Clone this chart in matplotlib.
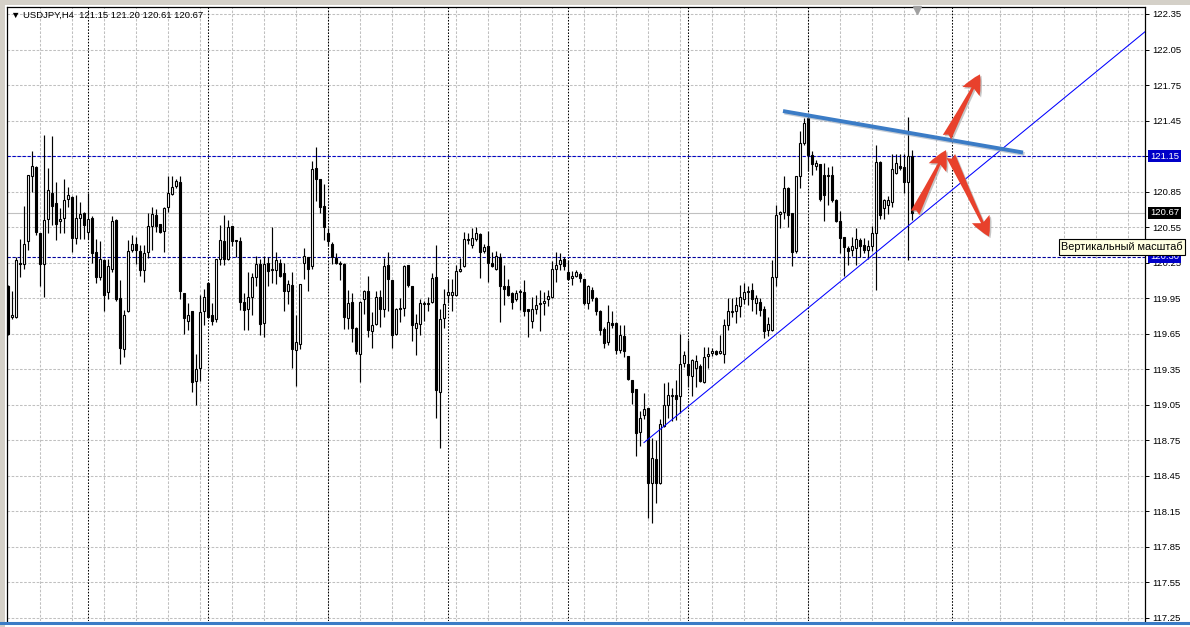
import matplotlib
matplotlib.use("Agg")
import matplotlib.pyplot as plt
import matplotlib.transforms as mtransforms
from matplotlib.lines import Line2D
from matplotlib.patches import Rectangle

# USDJPY H4 candles, oldest first
opens = [
    120.05, 119.79, 119.79, 120.25, 120.24, 120.43, 120.98, 121.06, 120.50, 120.24,
    120.62, 120.84, 120.75, 120.60, 120.63, 120.79, 120.80, 120.46, 120.63, 120.67,
    120.51, 120.63, 120.34, 120.13, 120.27, 120.00, 120.20, 120.61, 119.95, 119.52,
    119.84, 120.36, 120.41, 120.35, 120.19, 120.34, 120.56, 120.65, 120.58, 120.52,
    120.72, 120.83, 120.90, 120.93, 119.99, 119.76, 119.84, 119.25, 119.36, 119.84,
    120.08, 119.81, 119.77, 120.28, 120.43, 120.28, 120.56, 120.43, 120.43, 119.92,
    119.86, 119.96, 120.13, 120.24, 119.74, 120.25, 120.19, 120.19, 120.25, 120.16,
    120.01, 120.06, 119.51, 119.56, 120.25, 120.30, 120.22, 121.05, 120.96, 120.73,
    120.50, 120.41, 120.29, 120.25, 120.24, 119.78, 119.92, 119.70, 119.48, 119.94,
    120.01, 119.67, 119.73, 119.96, 119.86, 120.23, 120.10, 119.65, 119.87, 119.87,
    120.23, 120.05, 119.70, 119.73, 119.90, 119.90, 119.92, 120.13, 119.16, 119.78,
    119.98, 119.98, 119.98, 120.18, 120.22, 120.44, 120.40, 120.45, 120.49, 120.35,
    120.39, 120.25, 120.20, 120.30, 120.05, 120.05, 119.99, 119.94, 120.00, 120.00,
    119.86, 119.76, 119.86, 119.90, 119.91, 119.94, 119.96, 120.20, 120.24, 120.28,
    120.17, 120.12, 120.14, 120.15, 120.11, 119.91, 120.02, 119.95, 119.84, 119.69,
    119.58, 119.74, 119.74, 119.51, 119.63, 119.46, 119.26, 119.18, 118.82, 118.96,
    119.02, 118.39, 118.59, 118.39, 118.87, 119.05, 119.12, 119.13, 119.12, 119.40,
    119.39, 119.29, 119.36, 119.38, 119.24, 119.46, 119.49, 119.50, 119.49, 119.48,
    119.72, 119.83, 119.84, 119.88, 119.94, 120.01, 120.02, 119.91, 119.92, 119.86,
    119.68, 119.68, 120.13, 120.66, 120.68, 120.88, 120.67, 120.35, 120.98, 121.26,
    121.47, 121.16, 121.07, 121.08, 120.99, 120.98, 120.99, 120.78, 120.60, 120.47,
    120.37, 120.36, 120.37, 120.44, 120.40, 120.36, 120.39, 120.50, 121.10, 120.71,
    120.74, 120.76, 121.01, 121.07, 121.06, 120.93, 121.15,
]
highs = [
    120.06, 120.01, 120.30, 120.45, 120.73, 120.99, 121.19, 121.07, 120.50, 121.33,
    121.05, 121.32, 120.93, 120.71, 120.96, 120.89, 120.81, 120.82, 120.76, 120.68,
    120.84, 120.64, 120.45, 120.43, 120.28, 120.28, 120.64, 120.62, 120.10, 119.85,
    120.44, 120.48, 120.47, 120.40, 120.40, 120.67, 120.72, 120.70, 120.58, 120.72,
    120.98, 120.98, 120.96, 120.98, 119.99, 119.91, 119.84, 119.48, 119.98, 120.03,
    120.09, 119.91, 120.28, 120.57, 120.65, 120.61, 120.56, 120.44, 120.47, 119.99,
    120.17, 120.16, 120.31, 120.28, 120.31, 120.30, 120.55, 120.34, 120.28, 120.25,
    120.10, 120.17, 119.81, 120.07, 120.37, 120.30, 121.11, 121.23, 120.96, 120.91,
    120.54, 120.42, 120.33, 120.26, 120.25, 120.02, 119.99, 119.71, 119.93, 120.02,
    120.14, 119.83, 120.01, 120.02, 120.29, 120.34, 120.10, 119.87, 119.95, 120.23,
    120.23, 120.05, 119.82, 119.94, 119.93, 119.96, 120.16, 120.40, 119.86, 120.03,
    120.11, 120.11, 120.23, 120.29, 120.51, 120.50, 120.54, 120.55, 120.50, 120.41,
    120.52, 120.34, 120.35, 120.33, 120.23, 120.11, 120.00, 120.02, 120.03, 120.10,
    119.86, 119.96, 119.98, 120.02, 120.00, 120.02, 120.26, 120.34, 120.33, 120.30,
    120.27, 120.18, 120.19, 120.17, 120.11, 120.06, 120.04, 119.96, 119.85, 119.71,
    119.89, 119.84, 119.75, 119.72, 119.72, 119.46, 119.26, 119.18, 119.00, 119.15,
    119.02, 118.77, 118.75, 118.93, 119.23, 119.24, 119.19, 119.26, 119.65, 119.50,
    119.60, 119.44, 119.47, 119.39, 119.54, 119.54, 119.53, 119.51, 119.64, 119.77,
    119.95, 119.95, 119.96, 120.06, 120.08, 120.05, 120.08, 119.98, 119.95, 119.88,
    119.79, 120.27, 120.74, 120.69, 120.98, 120.89, 120.67, 120.98, 121.36, 121.47,
    121.48, 121.19, 121.12, 121.08, 121.09, 121.06, 121.07, 120.79, 120.69, 120.47,
    120.39, 120.47, 120.54, 120.46, 120.46, 120.44, 120.56, 121.24, 121.11, 120.79,
    120.81, 121.17, 121.17, 121.17, 121.17, 121.48, 121.20,
]
lows = [
    119.64, 119.77, 119.78, 120.13, 120.20, 120.36, 120.85, 120.48, 120.05, 119.96,
    120.50, 120.57, 120.44, 120.50, 120.50, 120.72, 120.34, 120.41, 120.45, 120.45,
    120.45, 120.25, 120.08, 120.10, 119.84, 119.94, 120.17, 119.93, 119.39, 119.45,
    119.83, 120.34, 120.24, 120.14, 120.09, 120.29, 120.36, 120.51, 120.50, 120.34,
    120.68, 120.82, 120.88, 119.94, 119.65, 119.68, 119.16, 119.05, 119.25, 119.72,
    119.78, 119.72, 119.75, 120.23, 120.23, 120.27, 120.39, 120.30, 119.85, 119.68,
    119.68, 119.81, 120.05, 119.64, 119.62, 120.05, 120.08, 120.07, 120.13, 119.84,
    119.90, 119.36, 119.21, 119.52, 120.11, 120.01, 120.20, 120.77, 120.67, 120.44,
    120.39, 120.24, 120.24, 120.10, 119.69, 119.69, 119.58, 119.48, 119.24, 119.82,
    119.62, 119.53, 119.72, 119.71, 119.79, 119.84, 119.53, 119.64, 119.75, 119.80,
    120.04, 119.59, 119.47, 119.64, 119.76, 119.84, 119.91, 118.94, 118.68, 119.70,
    119.91, 119.84, 119.97, 120.17, 120.21, 120.41, 120.37, 120.43, 120.12, 120.33,
    120.09, 120.21, 120.19, 119.75, 119.89, 119.97, 119.86, 119.93, 119.85, 119.80,
    119.62, 119.70, 119.82, 119.67, 119.81, 119.88, 119.95, 120.09, 120.19, 120.19,
    120.10, 120.06, 120.13, 120.09, 119.89, 119.86, 119.93, 119.81, 119.64, 119.53,
    119.55, 119.70, 119.48, 119.49, 119.45, 119.26, 119.06, 118.62, 118.70, 118.93,
    118.09, 118.05, 118.22, 118.38, 118.86, 118.94, 118.91, 118.92, 118.98, 119.37,
    119.20, 119.12, 119.20, 119.24, 119.23, 119.36, 119.46, 119.47, 119.48, 119.40,
    119.68, 119.79, 119.74, 119.79, 119.90, 119.89, 119.84, 119.82, 119.80, 119.61,
    119.63, 119.67, 120.05, 120.54, 120.62, 120.55, 120.22, 120.33, 120.88, 121.24,
    121.02, 120.99, 121.03, 120.77, 120.60, 120.74, 120.76, 120.59, 120.33, 120.14,
    120.23, 120.31, 120.23, 120.30, 120.33, 120.28, 120.35, 120.02, 120.62, 120.62,
    120.66, 120.72, 121.00, 121.03, 120.84, 120.27, 120.61,
]
closes = [
    119.65, 119.81, 120.27, 120.24, 120.41, 120.99, 121.07, 120.51, 120.24, 120.61,
    120.86, 120.73, 120.58, 120.62, 120.78, 120.82, 120.46, 120.63, 120.66, 120.57,
    120.62, 120.33, 120.13, 120.28, 119.98, 120.22, 120.60, 119.94, 119.53, 119.81,
    120.35, 120.41, 120.36, 120.19, 120.33, 120.56, 120.66, 120.56, 120.51, 120.71,
    120.84, 120.89, 120.94, 120.01, 119.78, 119.81, 119.24, 119.35, 119.83, 119.96,
    119.79, 119.76, 120.28, 120.44, 120.28, 120.55, 120.43, 120.44, 119.92, 119.85,
    119.96, 120.13, 120.24, 119.73, 120.24, 120.18, 120.20, 120.27, 120.14, 120.01,
    120.07, 119.52, 119.58, 120.07, 120.31, 120.20, 121.04, 120.96, 120.72, 120.55,
    120.43, 120.30, 120.25, 120.24, 119.79, 119.91, 119.70, 119.50, 119.92, 120.01,
    119.68, 119.72, 119.96, 119.86, 120.22, 120.11, 119.64, 119.86, 119.86, 120.22,
    120.06, 119.72, 119.74, 119.91, 119.91, 119.91, 120.12, 119.17, 119.77, 119.90,
    120.00, 120.00, 120.18, 120.20, 120.45, 120.45, 120.46, 120.50, 120.34, 120.38,
    120.25, 120.22, 120.31, 120.05, 120.03, 119.98, 119.92, 119.99, 120.01, 119.84,
    119.84, 119.86, 119.89, 119.91, 119.93, 119.97, 120.20, 120.23, 120.27, 120.22,
    120.11, 120.14, 120.17, 120.12, 119.91, 120.05, 119.95, 119.84, 119.68, 119.57,
    119.75, 119.72, 119.51, 119.64, 119.50, 119.27, 119.16, 118.81, 118.94, 119.01,
    118.39, 118.60, 118.39, 118.89, 119.05, 119.13, 119.13, 119.10, 119.39, 119.47,
    119.30, 119.43, 119.42, 119.25, 119.45, 119.48, 119.50, 119.48, 119.50, 119.72,
    119.84, 119.84, 119.89, 119.96, 120.00, 120.00, 119.94, 119.95, 119.85, 119.67,
    119.73, 120.13, 120.65, 120.68, 120.88, 120.65, 120.34, 120.98, 121.26, 121.43,
    121.16, 121.08, 121.09, 120.79, 120.82, 120.99, 120.78, 120.60, 120.46, 120.38,
    120.35, 120.39, 120.45, 120.39, 120.36, 120.39, 120.50, 121.10, 120.65, 120.78,
    120.78, 121.04, 121.09, 121.05, 120.93, 121.15, 120.67,
]

# price scale and period separators (bar index)
price_ticks = [117.25, 117.55, 117.85, 118.15, 118.45, 118.75, 119.05, 119.35, 119.65,
               119.95, 120.25, 120.55, 120.85, 121.15, 121.45, 121.75, 122.05, 122.35]
grid_bars = list(range(8, 284, 8))
week_bars = [20, 50, 80, 110, 140, 170, 200, 236]

header = "USDJPY,H4  121.15 121.20 120.61 120.67"
level_upper = 121.15
level_lower = 120.30
bid_price = 120.67

# drawn objects (bar index, price)
support_line = [(159.0, 118.73), (284.25, 122.20)]
resistance_line = [(193.75, 121.53), (253.75, 121.18)]
arrows = [
    ((226.75, 120.67), (234.5, 121.20)),
    ((234.75, 121.31), (243.0, 121.84)),
    ((235.7, 121.15), (245.25, 120.47)),
]

FONT = ["Liberation Sans", "DejaVu Sans"]
W, H = 1190, 627

fig = plt.figure(figsize=(W / 100, H / 100), dpi=100)
fig.patch.set_facecolor("white")
ax = fig.add_axes([7 / W, 6 / H, 1138 / W, 614 / H])
ax.set_xlim(-0.25, 284.25)
ax.set_ylim(117.223, 122.409)

# grid
for p in price_ticks:
    ax.axhline(p, color="#c0c0c0", lw=0.75, dashes=(2.5, 1.5), zorder=0)
for b in grid_bars:
    ax.axvline(b, color="#c0c0c0", lw=0.75, dashes=(2.5, 1.5), zorder=0)
for b in week_bars:
    ax.axvline(b, color="black", lw=0.75, dashes=(1.5, 1.5), zorder=0.5)

# level lines
ax.axhline(bid_price, color="#c0c0c0", lw=0.8, zorder=0.6)
ax.axhline(level_upper, color="#0000c8", lw=0.8, dashes=(3, 1.5), zorder=0.7)
ax.axhline(level_lower, color="#00009c", lw=0.8, dashes=(3, 1.5), zorder=0.7)

# candles
xs = list(range(len(opens)))
ax.vlines(xs, lows, highs, color="black", lw=0.85, zorder=2)
up = [i for i in xs if closes[i] >= opens[i]]
dn = [i for i in xs if closes[i] < opens[i]]
ax.bar(up, [closes[i] - opens[i] for i in up], bottom=[opens[i] for i in up],
       width=0.55, facecolor="white", edgecolor="black", lw=0.8, zorder=3)
ax.bar(dn, [opens[i] - closes[i] for i in dn], bottom=[closes[i] for i in dn],
       width=0.55, facecolor="black", edgecolor="black", lw=0.8, zorder=3)

# trend lines
ax.plot(*zip(*support_line), color="#0000ff", lw=0.75, zorder=4)
shadow = ax.transData + mtransforms.ScaledTranslation(1.5 / 100, -1.5 / 100, fig.dpi_scale_trans)
ax.plot(*zip(*resistance_line), color="#9aa7b8", lw=2.8, alpha=0.6,
        transform=shadow, solid_capstyle="butt", zorder=4)
ax.plot(*zip(*resistance_line), color="#3b7cc6", lw=2.8,
        solid_capstyle="butt", zorder=5)

# red arrows
style = "fancy,head_length=0.45,head_width=0.45,tail_width=0.22"
for start, end in arrows:
    ax.annotate("", xy=end, xytext=start, xycoords=shadow, textcoords=shadow,
                arrowprops=dict(arrowstyle=style, mutation_scale=31, color="#a0a0a0",
                                alpha=0.6, shrinkA=0, shrinkB=0, lw=0), zorder=5)
    ax.annotate("", xy=end, xytext=start,
                arrowprops=dict(arrowstyle=style, mutation_scale=31, color="#e8412c",
                                shrinkA=0, shrinkB=0, lw=0), zorder=6)

# price axis on the right
ax.yaxis.tick_right()
ax.set_yticks(price_ticks)
ax.set_yticklabels([f"{p:.2f}" for p in price_ticks], fontsize=6.8, family=FONT)
ax.tick_params(axis="y", length=3, width=0.7, pad=2, colors="black")
ax.set_xticks([])
for s in ax.spines.values():
    s.set_color("black")
    s.set_linewidth(0.9)
ax.spines["bottom"].set_visible(False)

trans = mtransforms.blended_transform_factory(ax.transAxes, ax.transData)
for val, bg in [(level_lower, "#0000c8"), (level_upper, "#0000c8"), (bid_price, "black")]:
    ax.text(1.0045, val, f"{val:.2f}", transform=trans, ha="left", va="center",
            fontsize=6.8, family=FONT, color="white", clip_on=False, zorder=8,
            bbox=dict(boxstyle="square,pad=0.18", fc=bg, ec="none"))

# header
ax.text(0.0035, 0.987, "\u25bc " + header, transform=ax.transAxes, ha="left", va="center",
        fontsize=6.8, family=FONT, color="black", zorder=9)

# window chrome
fig.add_artist(Rectangle((0, 1 - 5 / H), 1, 5 / H, transform=fig.transFigure,
                         fc="#d4d0c8", ec="none", zorder=10))
fig.add_artist(Rectangle((0, 0), 5 / W, 1, transform=fig.transFigure,
                         fc="#d4d0c8", ec="none", zorder=10))
fig.add_artist(Line2D([0, 1], [4.5 / H, 4.5 / H], transform=fig.transFigure,
                      color="#3b7cc6", lw=2.2, zorder=10))
fig.add_artist(Line2D([917 / W], [1 - 9.5 / H], transform=fig.transFigure, marker="v",
                      markersize=6, color="#a0a0a0", ls="none", zorder=10))

# tooltip
fig.text(1061 / W, 1 - 247 / H, "Вертикальный масштаб", ha="left", va="center",
         fontsize=7.8, family=FONT, color="black", zorder=12,
         bbox=dict(boxstyle="square,pad=0.22", fc="#ffffe1", ec="black", lw=0.8))

fig.savefig("out.png", dpi=100)
